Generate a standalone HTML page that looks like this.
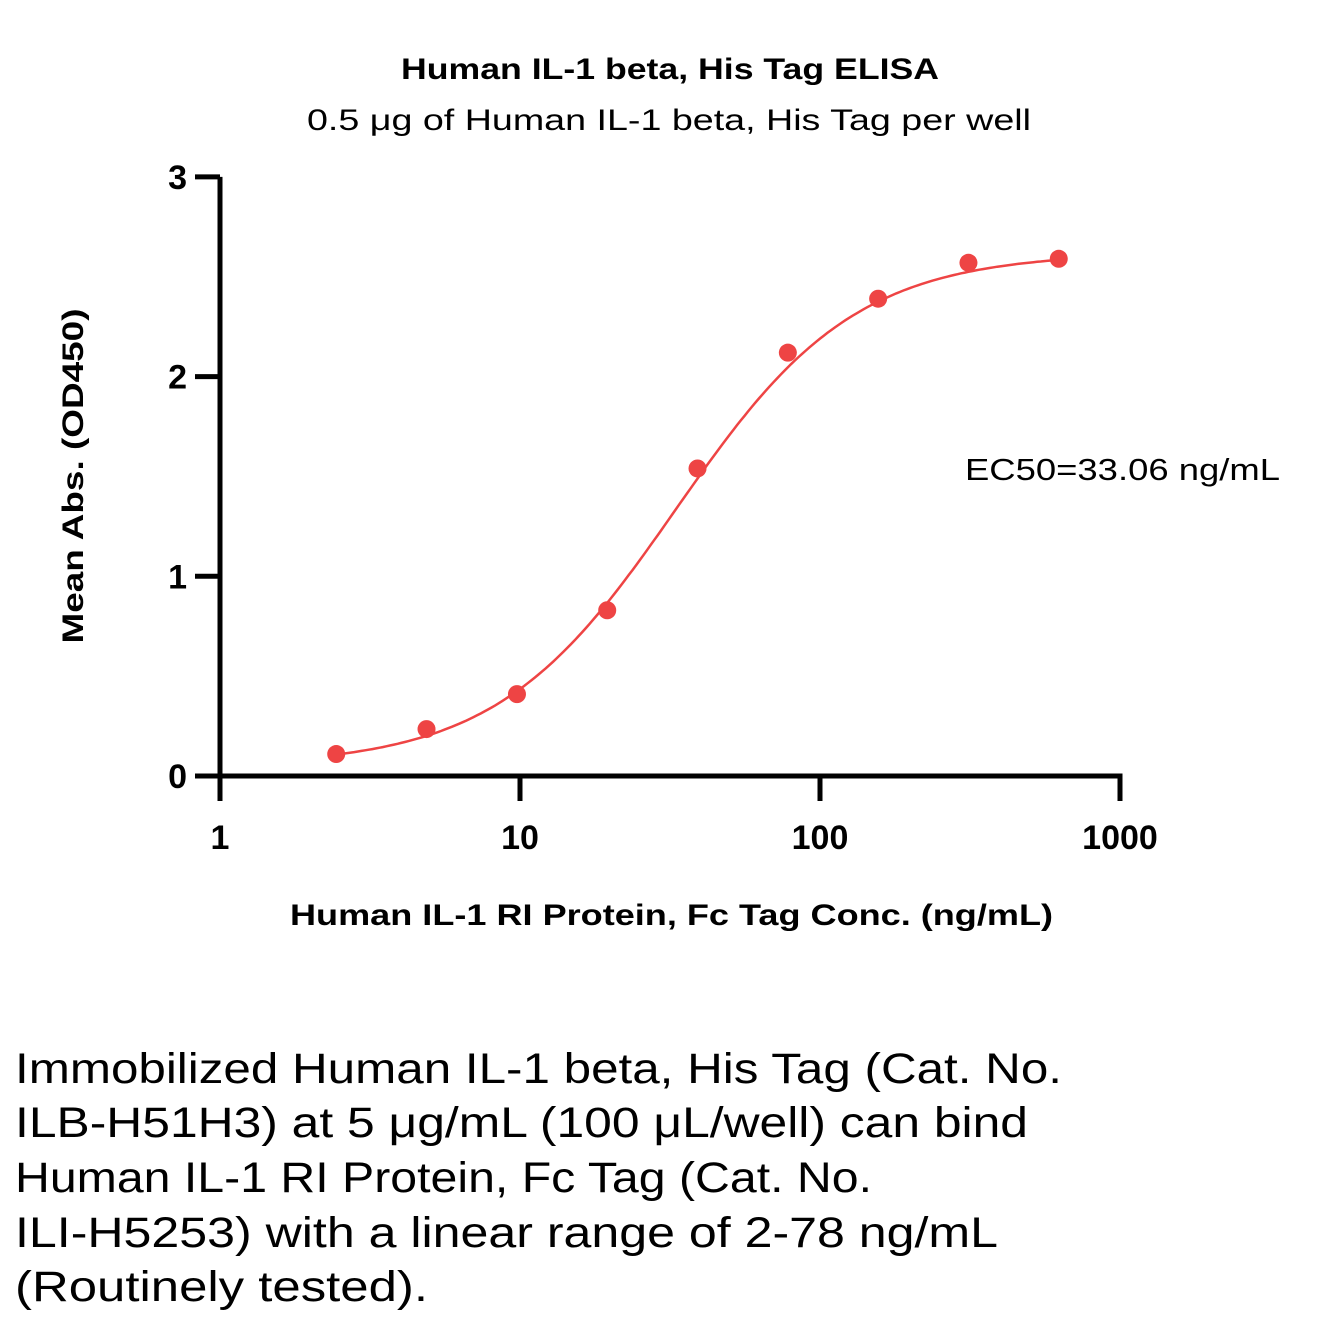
<!DOCTYPE html>
<html><head><meta charset="utf-8"><style>
html,body{margin:0;padding:0;background:#fff;}
svg{display:block;font-family:"Liberation Sans",sans-serif;}
</style></head><body>
<svg id="chart" width="1325" height="1327" viewBox="0 0 1325 1327" xmlns="http://www.w3.org/2000/svg">
<text x="401" y="79" font-size="30" font-weight="bold" textLength="538" lengthAdjust="spacingAndGlyphs">Human IL-1 beta, His Tag ELISA</text>
<text x="307" y="130" font-size="30" textLength="724" lengthAdjust="spacingAndGlyphs">0.5 μg of Human IL-1 beta, His Tag per well</text>
<g id="axes"></g>
<g id="marks"></g>
<text transform="translate(83,476) rotate(-90)" text-anchor="middle" font-size="30" font-weight="bold" textLength="335" lengthAdjust="spacingAndGlyphs">Mean Abs. (OD450)</text>
<text x="290" y="925" font-size="30" font-weight="bold" textLength="763" lengthAdjust="spacingAndGlyphs">Human IL-1 RI Protein, Fc Tag Conc. (ng/mL)</text>
<text x="965" y="480" font-size="31" textLength="315" lengthAdjust="spacingAndGlyphs">EC50=33.06 ng/mL</text>
<g font-size="43">
<text x="15" y="1083" textLength="1047" lengthAdjust="spacingAndGlyphs">Immobilized Human IL-1 beta, His Tag (Cat. No.</text>
<text x="15" y="1137" textLength="1013" lengthAdjust="spacingAndGlyphs">ILB-H51H3) at 5 μg/mL (100 μL/well) can bind</text>
<text x="15" y="1192" textLength="857" lengthAdjust="spacingAndGlyphs">Human IL-1 RI Protein, Fc Tag (Cat. No.</text>
<text x="15" y="1247" textLength="983" lengthAdjust="spacingAndGlyphs">ILI-H5253) with a linear range of 2-78 ng/mL</text>
<text x="15" y="1301" textLength="413" lengthAdjust="spacingAndGlyphs">(Routinely tested).</text>
</g>
</svg>
<script>
const concentrations = [2.44, 4.88, 9.77, 19.53, 39.06, 78.13, 156.25, 312.5, 625];
const absorbances = [0.11, 0.235, 0.41, 0.83, 1.54, 2.12, 2.39, 2.57, 2.59];
const fitParams = [0.05, 2.62, 33.06, 1.45]; // bottom, top, EC50, hill
const xTicks = [1, 10, 100, 1000];
const yTicks = [0, 1, 2, 3];

const NS = "http://www.w3.org/2000/svg";
const X = v => 220 + 300 * Math.log10(v);
const Y = v => 776 - 199.7 * v;
function mk(tag, attrs, parent, text) {
  const e = document.createElementNS(NS, tag);
  for (const k in attrs) e.setAttribute(k, attrs[k]);
  if (text !== undefined) e.textContent = text;
  parent.appendChild(e);
  return e;
}
const axes = document.getElementById('axes');
const marks = document.getElementById('marks');
const ya = mk('line', {x1: 220, y1: Y(3), x2: 220, y2: 801, stroke: '#000', 'stroke-width': 5}, axes);


const xa = mk('line', {x1: 195, y1: 776, x2: X(1000) + 2.5, y2: 776, stroke: '#000', 'stroke-width': 5}, axes);


yTicks.forEach(t => {
  const l = mk('line', {x1: 195, y1: Y(t), x2: 220, y2: Y(t), stroke: '#000', 'stroke-width': 5}, axes);
  
  
  const tx = mk('text', {x: 187, y: Y(t) + 12, 'text-anchor': 'end', 'font-size': 34, 'font-weight': 'bold'}, axes, String(t));
  
  
});
xTicks.forEach(t => {
  const l = mk('line', {x1: X(t), y1: 776, x2: X(t), y2: 801, stroke: '#000', 'stroke-width': 5}, axes);
  
  
  const tx = mk('text', {x: X(t), y: 849, 'text-anchor': 'middle', 'font-size': 34, 'font-weight': 'bold'}, axes, String(t));
  
  
});
const [b, tp, ec, h] = fitParams;
const f = x => b + (tp - b) / (1 + Math.pow(ec / x, h));
let d = '';
const lo = Math.log10(concentrations[0]), hi = Math.log10(concentrations[concentrations.length - 1]);
for (let i = 0; i <= 200; i++) {
  const lx = lo + (hi - lo) * i / 200, x = Math.pow(10, lx);
  d += (i ? 'L' : 'M') + X(x).toFixed(1) + ',' + Y(f(x)).toFixed(1);
}
const curve = mk('path', {d: d, fill: 'none', stroke: '#ee4444', 'stroke-width': 2.5}, marks);


concentrations.forEach((c, i) => {
  const p = mk('circle', {cx: X(c), cy: Y(absorbances[i]), r: 9, fill: '#ee4444'}, marks);
  
  
});
</script>
</body></html>
